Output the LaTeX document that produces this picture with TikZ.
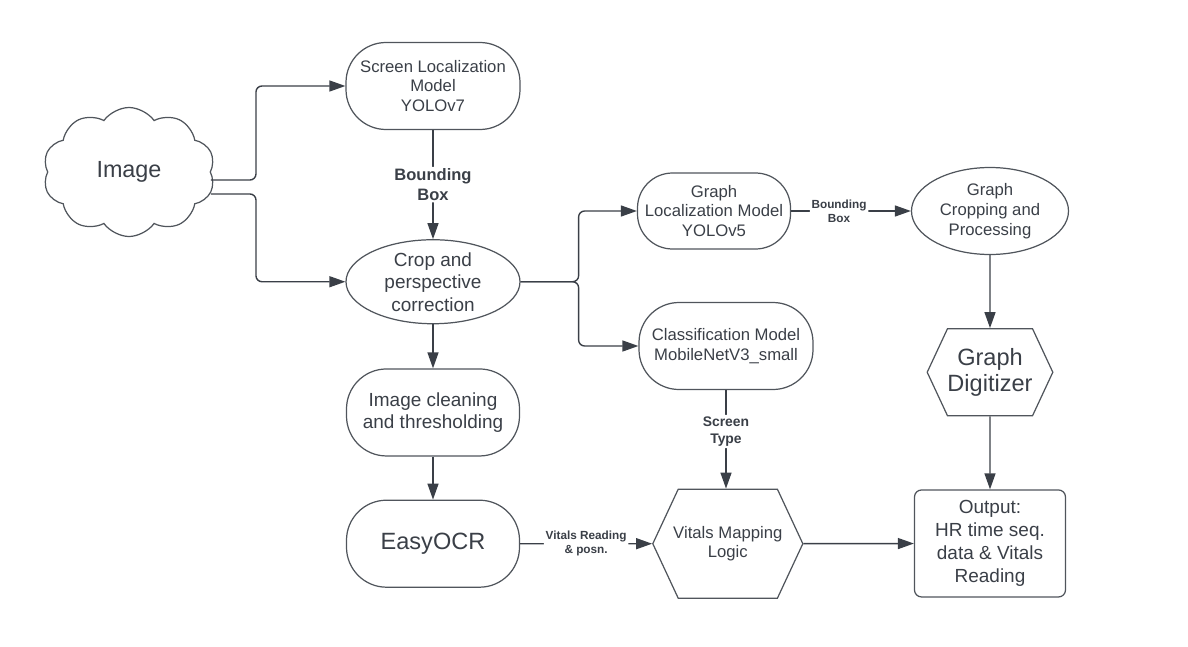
\documentclass[tikz,border=0pt]{standalone}
\usepackage{fontspec}
\setmainfont{Liberation Sans}
\usepackage{xcolor}
\definecolor{FlowInk}{HTML}{3A3F47}
\definecolor{EdgeGray}{HTML}{50555C}
\usepackage{tikz}
\usetikzlibrary{arrows.meta,positioning,shapes.geometric,shapes.misc,shapes.symbols}

\begin{document}
\begin{tikzpicture}[x=0.2mm,y=-0.2mm,>={Triangle[length=3.2mm,width=2.2mm]},
 every node/.style={text=FlowInk,font=\fontsize{9.5}{11.3}\selectfont},
 pill/.style={draw=EdgeGray,line width=0.7pt,rectangle,rounded corners=8mm,minimum width=34.8mm,minimum height=17.4mm,align=center,inner sep=1mm},
 oval/.style={draw=EdgeGray,line width=0.7pt,ellipse,align=center,inner sep=0pt},
 hexa/.style={draw=EdgeGray,line width=0.7pt,signal,signal to=east and west,signal pointer angle=130,align=center,inner ysep=1mm},
 tag/.style={fill=white,font=\bfseries\fontsize{9.4}{11.3}\selectfont,align=center,inner sep=1pt},
 smalltag/.style={tag,font=\bfseries\fontsize{6.7}{8}\selectfont},
 link/.style={->,draw=FlowInk,line width=0.8pt,rounded corners=1.2mm}]
\useasboundingbox (0,0) rectangle (1188,646);
% left column
\node[cloud,cloud puffs=10,cloud puff arc=110,cloud ignores aspect,draw=EdgeGray,line width=0.7pt,minimum width=34.4mm,minimum height=25.8mm,font=\fontsize{13.3}{16}\selectfont] (img) at (129,172) {Image};
\node[pill] (slm) at (433,86) {Screen Localization\\Model\\YOLOv7};
\node[oval,minimum width=34.8mm,minimum height=16.8mm,font=\fontsize{10.8}{12.8}\selectfont,below=21.8mm of slm] (crop) {Crop and\\perspective\\correction};
\node[pill,minimum width=34.6mm,font=\fontsize{10.8}{12.8}\selectfont,below=8.8mm of crop] (clean) {Image cleaning\\and thresholding};
\node[pill,minimum width=34.6mm,font=\fontsize{13.4}{16}\selectfont,below=8.6mm of clean] (ocr) {EasyOCR};
% middle column
\node[pill,minimum width=30.6mm,minimum height=15.2mm,rounded corners=7mm] (gloc) at (714,211) {Graph\\Localization Model\\YOLOv5};
\node[pill] (cls) at (726,346) {Classification Model\\MobileNetV3\_small};
\node[hexa,inner xsep=-1mm,minimum height=21.8mm,right=26.4mm of ocr] (vml) {Vitals Mapping\\Logic};
% right column
\node[oval,minimum width=31.4mm,minimum height=17.4mm] (gcp) at (990,211) {Graph\\Cropping and\\Processing};
\node[hexa,inner xsep=0pt,minimum height=17.4mm,font=\fontsize{13.4}{14.7}\selectfont,below=14.6mm of gcp] (gdig) {Graph\\Digitizer};
\node[draw=EdgeGray,line width=0.7pt,rounded corners=1.4mm,minimum width=30.2mm,minimum height=21.4mm,align=center,font=\fontsize{10.8}{13}\selectfont,below=14.6mm of gdig] (out) {Output:\\HR time seq.\\data \& Vitals\\Reading};
% connectors
\draw[link] ([yshift=-1.6mm]img.east) -- ++(45,0) |- (slm.west);
\draw[link] ([yshift=-4.4mm]img.east) -- ++(45,0) |- (crop.west);
\draw[link] (slm) -- node[tag]{Bounding\\Box} (crop);
\draw[link] (crop.east) -- ++(58,0) |- (gloc.west);
\draw[link] (crop.east) -- ++(58,0) |- (cls.west);
\draw[link] (gloc) -- node[smalltag,pos=0.4]{Bounding\\Box} (gcp);
\draw[link] (gcp) -- (gdig);
\draw[link] (gdig) -- (out);
\draw[link] (crop) -- (clean);
\draw[link] (clean) -- (ocr);
\draw[link] (cls) -- node[tag,font=\bfseries\fontsize{7.9}{9.8}\selectfont,pos=0.42]{Screen\\Type} (cls |- vml.north);
\draw[link] (ocr) -- node[smalltag]{Vitals Reading\\\& posn.} (vml);
\draw[link] (vml) -- (out);
\end{tikzpicture}
\end{document}
